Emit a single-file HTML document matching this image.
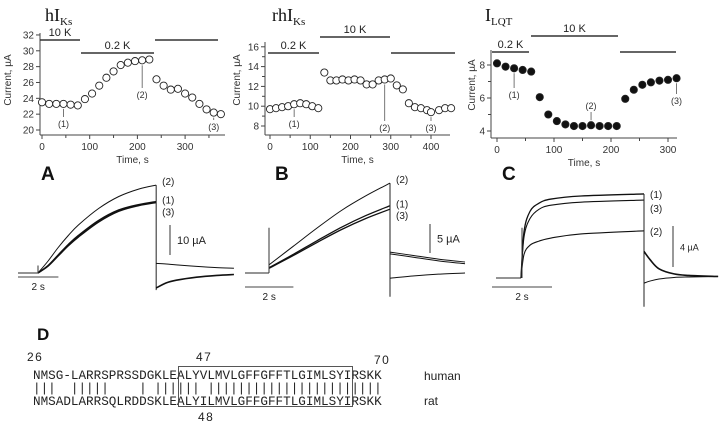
<!DOCTYPE html>
<html><head><meta charset="utf-8">
<style>
html,body{margin:0;padding:0;background:#fff;}
svg{display:block;font-family:"Liberation Sans",sans-serif;}
.tick{font-size:10px;fill:#333;}
.mono{font-family:"Liberation Mono",monospace;font-size:12.6px;fill:#222;}
</style></head><body>
<svg id="fig" width="720" height="423" viewBox="0 0 720 423" xmlns="http://www.w3.org/2000/svg"></svg>
<script>
// ---------- Scatter data (time s, current µA) ----------
const aTimes = [0,15,30,45,60,75,90,105,120,135,150,165,180,195,210,225,240,255,270,285,300,315,330,345,360,375];
const aValues = [23.5,23.3,23.3,23.3,23.2,23.1,23.9,24.6,25.6,26.6,27.4,28.2,28.5,28.7,28.8,28.9,26.4,25.6,25.1,25.2,24.6,24.1,23.3,22.6,22.2,22.0];
const bTimes = [0,15,30,45,60,75,90,105,120,135,150,165,180,195,210,225,240,255,270,285,300,315,330,345,360,375,390,400,420,435,450];
const bValues = [9.7,9.8,9.9,10.0,10.2,10.3,10.2,10.0,9.8,13.4,12.6,12.6,12.7,12.6,12.7,12.6,12.2,12.2,12.6,12.7,12.8,12.1,11.7,10.3,9.9,9.8,9.6,9.4,9.6,9.8,9.8];
const cTimes = [0,15,30,45,60,75,90,105,120,135,150,165,180,195,210,225,240,255,270,285,300,315];
const cValues = [8.1,7.9,7.8,7.7,7.6,6.05,5.0,4.6,4.4,4.3,4.3,4.35,4.3,4.3,4.3,5.95,6.5,6.8,6.95,7.05,7.1,7.2];
const aYTicks = [20,22,24,26,28,30,32];
const bYTicks = [8,10,12,14,16];
const cYTicks = [4,6,8];
const aXTicks = [0,100,200,300];
const bXTicks = [0,100,200,300,400];
const cXTicks = [0,100,200,300];
// ---------- Current traces (time s, µA) ----------
const aT = [0,0.5,1,1.5,2,3,4,5,5.85];
const aTr2 = [0,4,8.5,12.5,16,21.5,25.5,28,29.3];
const aTr1 = [0,2.5,6,9.5,12.5,17.5,21,22.8,23.8];
const aTr3 = [0,2.3,5.7,9.1,12,17,20.6,22.5,23.5];
const aTailT = [0,0.5,1,2,3,3.85];
const aTailUp = [3.2,3.0,2.7,2.2,1.8,1.6];
const aTailDn = [-5,-3.3,-2.4,-1.4,-0.8,-0.5];
const bT = [0,1,2,3,4,5];
const bTr2 = [1.4,4.6,7.8,10.8,13.3,15.5];
const bTr1 = [0.9,3.2,5.6,7.9,9.9,11.6];
const bTr3 = [0.8,3.0,5.3,7.5,9.4,11.0];
const bTailT = [0,1,2,3.1];
const bTailUp = [3.6,3.0,2.4,1.9];
const bTailDn = [-0.9,-0.5,-0.2,0];
const cT = [0,0.1,0.3,0.6,1,2,4.1];
const cTr1 = [0,4.5,6.5,7.3,7.7,8.0,8.2];
const cTr3 = [0,4,5.8,6.7,7.1,7.4,7.6];
const cTr2 = [0,2.3,3.2,3.6,3.9,4.3,4.6];
const cTailT = [0,0.2,0.5,1,1.5,2.47];
const cTailUp = [2.6,1.8,0.9,0.4,0.25,0.15];
const cTailDn = [-0.5,-0.3,-0.1,0.05,0.1,0.15];

const NS="http://www.w3.org/2000/svg";
const svg=document.getElementById('fig');
function mk(tag,attrs,parent,text){const e=document.createElementNS(NS,tag);for(const k in attrs)e.setAttribute(k,attrs[k]);if(text!==undefined)e.textContent=text;(parent||svg).appendChild(e);return e;}
function line(x1,y1,x2,y2,w,col,p){return mk('line',{x1,y1,x2,y2,stroke:col||'#222','stroke-width':w||1},p);}
function txt(x,y,s,size,p,extra){const a={x,y,'font-size':size,fill:'#222'};Object.assign(a,extra||{});return mk('text',a,p,s);}
function smooth(pts){let d='M'+pts[0][0]+','+pts[0][1];for(let i=0;i<pts.length-1;i++){const p0=pts[Math.max(0,i-1)],p1=pts[i],p2=pts[i+1],p3=pts[Math.min(pts.length-1,i+2)];const c1x=p1[0]+(p2[0]-p0[0])/6,c1y=p1[1]+(p2[1]-p0[1])/6,c2x=p2[0]-(p3[0]-p1[0])/6,c2y=p2[1]-(p3[1]-p1[1])/6;d+=' C'+c1x+','+c1y+' '+c2x+','+c2y+' '+p2[0]+','+p2[1];}return d;}

function scatter(cfg){
  const g=mk('g',{});
  
  
  const X=t=>cfg.x0+t*cfg.sx, Y=v=>cfg.yb-(v-cfg.vmin)*cfg.sy;
  // axes
  const ya=line(cfg.ax,cfg.yTop,cfg.ax,cfg.axY,1,'#444',g);
  
  const xa=line(cfg.ax,cfg.axY,cfg.xEnd,cfg.axY,1,'#444',g);
  
  cfg.yTicks.forEach(v=>{line(cfg.ax-4,Y(v),cfg.ax,Y(v),1,'#444',g);const t=txt(cfg.ax-6,Y(v)+3.5,String(v),10,g,{'text-anchor':'end',fill:'#333'});});
  (cfg.yMinor||[]).forEach(v=>line(cfg.ax-3,Y(v),cfg.ax,Y(v),1,'#444',g));
  cfg.xTicks.forEach(v=>{line(X(v),cfg.axY,X(v),cfg.axY+4,1,'#444',g);const t=txt(X(v),cfg.axY+15,String(v),10,g,{'text-anchor':'middle',fill:'#333'});});
  cfg.xTicks.forEach(v=>{const m=v+50;if(X(m)<cfg.xEnd)line(X(m),cfg.axY,X(m),cfg.axY+3,1,'#444',g);});
  const xl=txt((cfg.ax+cfg.xEnd)/2,cfg.axY+28,'Time, s',10,g,{'text-anchor':'middle',fill:'#333'});
  
  const yl=txt(0,0,'Current, µA',10,g,{'text-anchor':'middle',fill:'#333',transform:'translate('+cfg.ylx+','+cfg.yly+') rotate(-90)'});
  
  // bars
  cfg.bars.forEach(b=>{const l=line(b[0],b[1],b[2],b[1],1.6,'#333',g);if(b[3]){const t=txt((b[0]+b[2])/2,b[1]-4,b[3],11,g,{'text-anchor':'middle'});}});
  // annotations
  cfg.ann.forEach(a=>{const px=X(cfg.times[a[0]]),py=Y(cfg.vals[a[0]]);const dir=a[2]>py?1:-1;line(px,py+dir*5,px,a[2],0.8,'#555',g);const t=txt(px,a[2]+(dir>0?10:-3),a[1],9,g,{'text-anchor':'middle',fill:'#333'});});
  // points
  cfg.times.forEach((t,i)=>{const c=mk('circle',{cx:X(t),cy:Y(cfg.vals[i]),r:3.6,fill:cfg.filled?'#111':'#fff',stroke:'#222','stroke-width':0.9},g);});
  // title
  const ti=mk('text',{x:cfg.tx,y:21,'font-family':'"Liberation Serif",serif','font-size':18,fill:'#111'},g);
  
  mk('tspan',{},ti,cfg.title);mk('tspan',{'font-size':11,dy:4},ti,cfg.sub);
}
scatter({name:'chart-hiks',title:'hI',sub:'Ks',tx:45,x0:42,sx:0.477,yb:130,vmin:20,sy:7.92,ax:40,axY:135,yTop:33,xEnd:225,yTicks:aYTicks,yMinor:[],xTicks:aXTicks,times:aTimes,vals:aValues,ylx:11,yly:80,filled:false,
 bars:[[40,40,80,'10 K'],[81,53,154,'0.2 K'],[155,40,218,'']],ann:[[3,'(1)',117],[14,'(2)',88],[24,'(3)',120]]});
scatter({name:'chart-rhiks',title:'rhI',sub:'Ks',tx:272,x0:270,sx:0.4025,yb:126,vmin:8,sy:9.9,ax:265,axY:135,yTop:42,xEnd:450,yTicks:bYTicks,yMinor:[9,11,13,15],xTicks:bXTicks,times:bTimes,vals:bValues,ylx:240,yly:80,filled:false,
 bars:[[268,53,319,'0.2 K'],[320,37,390,'10 K'],[391,53,455,'']],ann:[[4,'(1)',117],[19,'(2)',121],[27,'(3)',121]]});
scatter({name:'chart-ilqt',title:'I',sub:'LQT',tx:485,x0:497,sx:0.57,yb:131,vmin:4,sy:16.5,ax:491,axY:138,yTop:50,xEnd:677,yTicks:cYTicks,yMinor:[5,7],xTicks:cXTicks,times:cTimes,vals:cValues,ylx:475,yly:85,filled:true,
 bars:[[492,52,529,'0.2 K'],[531,36,618,'10 K'],[620,52,676,'']],ann:[[2,'(1)',88],[11,'(2)',112],[21,'(3)',94]]});

// ---------- Traces ----------
function traces(cfg){
  const g=mk('g',{});
  
  
  const X=t=>cfg.x0+t*cfg.sx, Y=v=>cfg.yb-v*cfg.sy;
  const tend=cfg.T[cfg.T.length-1];
  // baseline
  line(cfg.blx,Y(0),X(0),Y(0),1.3,'#555',g);
  cfg.series.forEach(s=>{const p=mk('path',{d:smooth(cfg.T.map((t,i)=>[X(t),Y(s.v[i])])),fill:'none',stroke:'#111','stroke-width':s.w||1},g);
    const l=txt(X(tend)+6,Y(s.v[s.v.length-1])+s.dy,'('+s.id+')',10,g);});
  if(cfg.spike!==undefined)line(X(0)+cfg.spx,Y(0),X(0)+cfg.spx,Y(cfg.spike),1,'#333',g);
  line(X(tend),Y(cfg.endTop),X(tend),Y(cfg.endBot),1,'#222',g);
  const tx=t=>X(tend)+t*cfg.sx;
  cfg.tails.forEach(tl=>{const p=mk('path',{d:smooth(cfg.tailT.map((t,i)=>[tx(t),Y(tl.v[i])])),fill:'none',stroke:'#111','stroke-width':tl.w||1},g);});
  // scale bars
  const sb=line(cfg.sbx,cfg.sbY1,cfg.sbx,cfg.sbY2,1,'#333',g);
  const st=txt(cfg.sbx+7,(cfg.sbY1+cfg.sbY2)/2+4,cfg.sbLabel,cfg.sbSize||11,g);
  const tb=line(cfg.tbx,cfg.tby,cfg.tbx+2*cfg.sx,cfg.tby,1,'#444',g);
  const tt=txt(cfg.tbx+cfg.sx,cfg.tby+13,'2 s',10,g,{'text-anchor':'middle'});
  const L=mk('text',{x:cfg.lx,y:cfg.ly,'font-size':19,'font-weight':'bold',fill:'#111'},g,cfg.letter);
  
}
traces({name:'traces-a',letter:'A',lx:41,ly:180,x0:38,sx:20.2,yb:273,sy:3,blx:18,T:aT,
 series:[{id:'2',v:aTr2,dy:0},{id:'1',v:aTr1,w:1.5,dy:2},{id:'3',v:aTr3,w:1.5,dy:13}],
 spike:2.5,spx:0,endTop:29.3,endBot:-5.7,tailT:aTailT,tails:[{v:aTailUp},{v:aTailDn,w:1.6}],
 sbx:170,sbY1:225,sbY2:255,sbLabel:'10 µA',tbx:18,tby:277});
traces({name:'traces-b',letter:'B',lx:275,ly:180,x0:269,sx:24.2,yb:273,sy:5.8,blx:245,T:bT,
 series:[{id:'2',v:bTr2,dy:0},{id:'1',v:bTr1,w:1.3,dy:2},{id:'3',v:bTr3,w:1.3,dy:10}],
 spike:7.8,spx:0,endTop:15.5,endBot:-4.1,tailT:bTailT,tails:[{v:bTailUp,w:1},{v:bTailUp.map(v=>v-0.3),w:1},{v:bTailDn}],
 sbx:430,sbY1:224,sbY2:253,sbLabel:'5 µA',tbx:245,tby:287});
traces({name:'traces-c',letter:'C',lx:502,ly:180,x0:521,sx:30,yb:278,sy:10.25,blx:496,T:cT,
 series:[{id:'1',v:cTr1,w:1.3,dy:4},{id:'3',v:cTr3,w:1.1,dy:12},{id:'2',v:cTr2,w:1.1,dy:4}],
 spike:4.9,spx:1,endTop:8.2,endBot:-2.8,tailT:cTailT,tails:[{v:cTailUp,w:1.6},{v:cTailDn}],
 sbx:673,sbY1:226,sbY2:267,sbLabel:'4 µA',sbSize:9,tbx:492,tby:287});

// ---------- Panel D: sequence alignment ----------
const human='NMSG-LARRSPRSSDGKLEALYVLMVLGFFGFFTLGIMLSYIRSKK';
const rat  ='NMSADLARRSQLRDDSKLEALYILMVLGFFGFFTLGIMLSYIRSKK';
let bars='';for(let i=0;i<human.length;i++)bars+=(human[i]===rat[i]?'|':' ');
const gd=mk('g',{});


const D=mk('text',{x:37,y:340,'font-size':17,'font-weight':'bold',fill:'#111'},gd,'D');

const cw=7.58,sx0=33;
function seq(y,s,name){const t=mk('text',{x:sx0,y,'class':'mono',textLength:s.length*cw,lengthAdjust:'spacingAndGlyphs','xml:space':'preserve'},gd,s.replace(/ /g,'\u00a0'));}
seq(379,human,'human-sequence');seq(392,bars,'identity-bars');seq(405,rat,'rat-sequence');
[[27,361,'26'],[196,361,'47'],[374,364,'70'],[198,421,'48']].forEach(n=>{const t=txt(n[0],n[1],n[2],12,gd,{'letter-spacing':'1.5'});});
const box=mk('rect',{x:178.5,y:366.5,width:174,height:40,fill:'none',stroke:'#444','stroke-width':0.9},gd);

const hl=txt(424,380,'human',12,gd);
const rl=txt(424,405,'rat',12,gd);
</script>
</body></html>
